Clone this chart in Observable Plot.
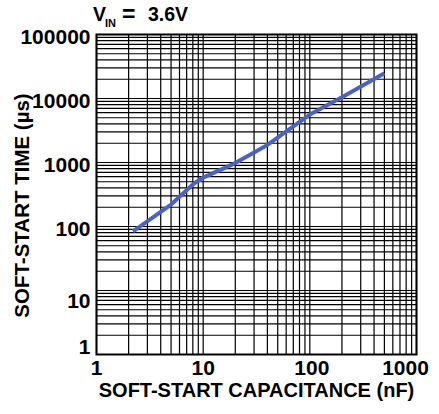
<!DOCTYPE html>
<html><head><meta charset="utf-8">
<script src="https://cdn.jsdelivr.net/npm/d3@7"></script>
<script src="https://cdn.jsdelivr.net/npm/@observablehq/plot@0.6"></script>
<style>
html,body{margin:0;padding:0;background:#fff;}
svg{display:block;}
</style></head><body><div id="chart"></div>
<script>
// Soft-start time vs soft-start capacitance, VIN = 3.6V
const capacitanceNF = [2.2, 5, 8.2, 10, 20, 40, 100, 200, 500];
const softStartUs   = [84, 220, 470, 580, 980, 1880, 5600, 10500, 24800];

const xTickLabels = [1, 10, 100, 1000];
const yTickLabels = [1, 10, 100, 1000, 10000, 100000];
const xTitle = "SOFT-START CAPACITANCE (nF)";
const yTitle = "SOFT-START TIME (µs)";
const titleMain = "V";
const titleSub = "IN";
const titleEq = "=";
const titleValue = "3.6V";

const mantissas = [1, 2, 3, 4, 5, 6, 7, 8, 9];
const xGrid = [];
for (const d of [1, 10, 100]) for (const m of mantissas) xGrid.push(d * m);
xGrid.push(1000);
const yGrid = [];
for (const d of [1, 10, 100, 1000, 10000]) for (const m of mantissas) yGrid.push(d * m);
yGrid.push(100000);

const data = capacitanceNF.map((c, i) => ({c, t: softStartUs[i]}));
const fmt = d => String(d);
const font = "'Liberation Sans', Arial, Helvetica, sans-serif";
const gridStyle = {stroke: "#000", strokeOpacity: 1, strokeWidth: 1.2};
const lbl = {fontSize: 21, fontWeight: "bold", fill: "#000", text: fmt};

const plot = Plot.plot({
  width: 439,
  height: 414,
  marginLeft: 96,
  marginRight: 23,
  marginTop: 34,
  marginBottom: 60,
  x: {type: "log", domain: [1, 1000], label: null, axis: null},
  y: {type: "log", domain: [1, 100000], label: null, axis: null},
  style: {fontFamily: font, fontWeight: "bold", color: "#000", background: "#fff", overflow: "visible"},
  marks: [
    Plot.gridX(xGrid, gridStyle),
    Plot.gridY(yGrid, gridStyle),
    Plot.frame({stroke: "#000", strokeWidth: 2}),
    Plot.line(data, {x: "c", y: "t", stroke: "#4a62c6", strokeWidth: 4, strokeLinecap: "butt"}),
    // x tick labels
    Plot.text(xTickLabels.slice(0, 2), {...lbl, x: d => d, frameAnchor: "bottom", lineAnchor: "top", dy: 6}),
    Plot.text(xTickLabels.slice(2, 3), {...lbl, x: d => d, frameAnchor: "bottom", lineAnchor: "top", dy: 6, dx: 2}),
    Plot.text(xTickLabels.slice(3), {...lbl, x: d => d, frameAnchor: "bottom", lineAnchor: "top", dy: 6, dx: -11}),
    // y tick labels
    Plot.text(yTickLabels.slice(2), {...lbl, y: d => d, frameAnchor: "left", textAnchor: "end", lineAnchor: "middle", dx: -6, dy: 3}),
    Plot.text(yTickLabels.slice(1, 2), {...lbl, y: d => d, frameAnchor: "left", textAnchor: "end", lineAnchor: "middle", dx: -6, dy: 11}),
    Plot.text(yTickLabels.slice(0, 1), {...lbl, y: d => d, frameAnchor: "left", textAnchor: "end", lineAnchor: "middle", dx: -6, dy: -7}),
    // axis titles
    Plot.text([xTitle], {frameAnchor: "bottom", text: d => d, dy: 36, fontSize: 20, fontWeight: "bold", lineAnchor: "middle", textAnchor: "middle", fill: "#000"}),
    Plot.text([yTitle], {frameAnchor: "left", text: d => d, rotate: -90, dx: -74, dy: 11, fontSize: 20.5, fontWeight: "bold", lineAnchor: "middle", textAnchor: "middle", fill: "#000"})
  ]
});

const svg = d3.select(plot);
const addText = (x, y, size, s) => svg.append("text")
  .attr("x", x).attr("y", y)
  .attr("text-anchor", "start")
  .attr("style", `font-family:${font};font-weight:bold;font-size:${size}px;fill:#000;text-anchor:start`)
  .text(s);
addText(93, 21, 19.5, titleMain);
addText(105, 27, 11, titleSub);
addText(122, 22, 23, titleEq);
addText(148, 21, 19.5, titleValue);

document.getElementById("chart").appendChild(plot);
</script>
</body></html>
